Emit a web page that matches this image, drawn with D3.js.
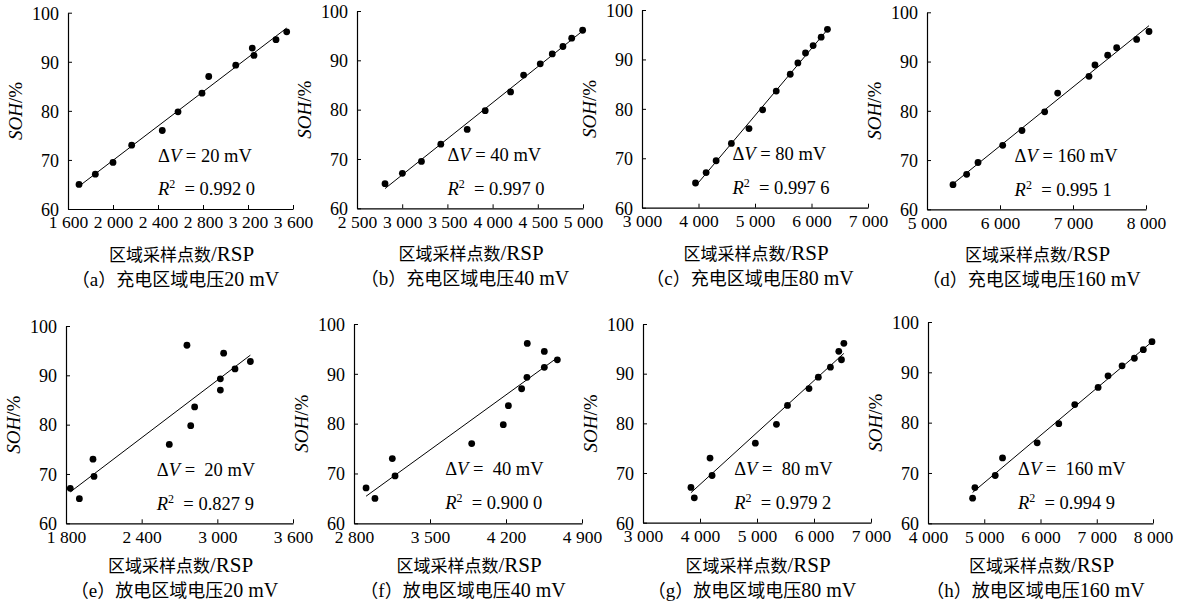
<!DOCTYPE html>
<html><head><meta charset="utf-8">
<script src="https://cdn.jsdelivr.net/npm/d3@7"></script>
<style>body{margin:0;background:#fff} svg{display:block}</style>
</head><body><svg id="c" width="1182" height="605"></svg>
<script>
// ---- data ----
const soh = [65.0, 67.1, 69.5, 73.0, 76.0, 79.8, 83.6, 87.0, 89.3, 91.3, 92.8, 94.5, 96.1];
const rspA = [1698, 1843, 2000, 2166, 2438, 2578, 2791, 2851, 3091, 3253, 3238, 3449, 3544];
const rspB = [2810, 3002, 3213, 3427, 3719, 3918, 4199, 4343, 4527, 4660, 4778, 4875, 4996];
const rspC = [3947, 4135, 4312, 4582, 4894, 5135, 5376, 5624, 5759, 5894, 6029, 6171, 6282];
const rspD = [5356, 5543, 5699, 6037, 6301, 6612, 6790, 7219, 7301, 7475, 7598, 7872, 8041];
const rspE = [1906, 1834, 2022, 2014, 2619, 2789, 2820, 3024, 3024, 3140, 3262, 3050, 2759];
const rspF = [2993, 2911, 3178, 3153, 3884, 4175, 4222, 4344, 4393, 4553, 4673, 4553, 4396];
const rspG = [3900, 3841, 4212, 4176, 4971, 5341, 5535, 5912, 6076, 6288, 6482, 6435, 6524];
const rspH = [4793, 4834, 5195, 5325, 5941, 6325, 6609, 7024, 7201, 7450, 7669, 7828, 7982];

const xDomains = [[1600, 3600], [2500, 5000], [3000, 7000], [5000, 8000],
                  [1800, 3600], [2800, 4900], [3000, 7000], [4000, 8000]];
const xTickSteps = [400, 500, 1000, 1000, 600, 700, 1000, 1000];
const yTicks = [60, 70, 80, 90, 100];
const dvLabels = ["20", "40", "80", "160", "20", "40", "80", "160"];
const r2Labels = ["0.992 0", "0.997 0", "0.997 6", "0.995 1", "0.827 9", "0.900 0", "0.979 2", "0.994 9"];
const capLetters = ["a", "b", "c", "d", "e", "f", "g", "h"];
const capModes = ["充电", "充电", "充电", "充电", "放电", "放电", "放电", "放电"];
const xTitleCjk = "区域采样点数", xTitleLatin = "/RSP";
const rspAll = [rspA, rspB, rspC, rspD, rspE, rspF, rspG, rspH];

// ---- layout ----
const boxes = [
  {l: 68, r: 293, t: 12.7, b: 209}, {l: 357, r: 583, t: 11, b: 208.3},
  {l: 642, r: 868, t: 10, b: 207.7}, {l: 927, r: 1146, t: 12.3, b: 209.3},
  {l: 66, r: 293, t: 326, b: 523.3}, {l: 354, r: 582, t: 324, b: 523.3},
  {l: 643, r: 871, t: 324, b: 522.7}, {l: 928, r: 1153, t: 322, b: 523.3}
];
const serif = "'Liberation Serif','Times New Roman',serif";
const cjk = "'Noto Sans CJK SC','Noto Sans CJK JP',sans-serif";
const fmtBase = d3.format("d");
const fmt = v => { const s = fmtBase(v); return s.length > 3 ? s.slice(0, s.length - 3) + " " + s.slice(-3) : s; };

const svg = d3.select("#c");

rspAll.forEach((xs, i) => {
  const bx = boxes[i];
  const x = d3.scaleLinear().domain(xDomains[i]).range([bx.l, bx.r]);
  const y = d3.scaleLinear().domain([60, 100]).range([bx.b, bx.t]);
  const g = svg.append("g");
  const pts = xs.map((v, k) => ({x: v, y: soh[k]}));

  // axes
  const xt = d3.range(xDomains[i][0], xDomains[i][1] + 1, xTickSteps[i]);
  const ax = g.append("g").attr("transform", `translate(0,${bx.b})`)
    .call(d3.axisBottom(x).tickValues(xt).tickFormat(fmt).tickSizeInner(-4).tickSizeOuter(0).tickPadding(7));
  const ay = g.append("g").attr("transform", `translate(${bx.l},0)`)
    .call(d3.axisLeft(y).tickValues(yTicks).tickSizeInner(-4).tickSizeOuter(0).tickPadding(9));
  [ax, ay].forEach(a => {
    a.select(".domain").attr("stroke", "#000").attr("stroke-width", 1.2);
    a.selectAll(".tick line").attr("stroke", "#000");
    a.selectAll("text").attr("font-family", serif).attr("fill", "#000");
  });
  ax.selectAll("text").attr("font-size", 17.5);
  ay.selectAll("text").attr("font-size", 18).attr("dy", "0.35em");

  // regression line (least squares over the plotted points)
  const mx = d3.mean(pts, d => d.x), my = d3.mean(pts, d => d.y);
  const sxy = d3.sum(pts, d => (d.x - mx) * (d.y - my));
  const sxx = d3.sum(pts, d => (d.x - mx) ** 2);
  const slope = sxy / sxx, icpt = my - slope * mx;
  const [x0, x1] = d3.extent(pts, d => d.x);
  g.append("line")
    .attr("x1", x(x0)).attr("y1", y(icpt + slope * x0))
    .attr("x2", x(x1)).attr("y2", y(icpt + slope * x1))
    .attr("stroke", "#000").attr("stroke-width", 1);

  // points
  g.selectAll("circle").data(pts).join("circle")
    .attr("cx", d => x(d.x)).attr("cy", d => y(d.y)).attr("r", 3.4).attr("fill", "#000");

  // annotations
  const w = bx.r - bx.l, h = bx.b - bx.t;
  const ann = g.append("text").attr("x", bx.l + 0.40 * w).attr("y", bx.t + 0.73 * h + 6)
    .attr("font-family", serif).attr("font-size", 18.5).style("white-space", "pre");
  ann.append("tspan").text("Δ");
  ann.append("tspan").attr("font-style", "italic").text("V");
  ann.append("tspan").text((i < 4 ? " = " : " =  ") + dvLabels[i] + " mV");
  const r2 = g.append("text").attr("x", bx.l + 0.40 * w).attr("y", bx.t + 0.90 * h + 6)
    .attr("font-family", serif).attr("font-size", 18.5).style("white-space", "pre");
  r2.append("tspan").attr("font-style", "italic").text("R");
  r2.append("tspan").attr("font-size", 12).attr("dy", -7).text("2");
  r2.append("tspan").attr("dy", 7).text("  = " + r2Labels[i]);

  // y label
  const yl = g.append("text")
    .attr("transform", `translate(${bx.l - 46},${(bx.t + bx.b) / 2}) rotate(-90)`)
    .attr("text-anchor", "middle").attr("font-family", serif).attr("font-size", 19);
  yl.append("tspan").attr("font-style", "italic").text("SOH");
  yl.append("tspan").text("/%");

  // x title & caption
  const cx = (bx.l + bx.r) / 2;
  const off = i < 4 ? 0 : -3;
  const t = g.append("text").attr("x", cx + 1).attr("y", bx.b + 52 + off).attr("text-anchor", "middle")
    .style("white-space", "pre");
  t.append("tspan").attr("font-family", cjk).attr("font-size", 17).text(xTitleCjk);
  t.append("tspan").attr("font-family", serif).attr("font-size", 21).text(xTitleLatin);
  const c = g.append("text").attr("x", cx - 5).attr("y", bx.b + 77 + off).attr("text-anchor", "middle")
    .style("white-space", "pre");
  c.append("tspan").attr("font-family", cjk).attr("font-size", 18).text("（");
  c.append("tspan").attr("font-family", serif).attr("font-size", 19).text(capLetters[i]);
  c.append("tspan").attr("font-family", cjk).attr("font-size", 18).text("）" + capModes[i] + "区域电压");
  c.append("tspan").attr("font-family", serif).attr("font-size", 20).text(dvLabels[i] + " mV");
});
</script>
</body></html>
